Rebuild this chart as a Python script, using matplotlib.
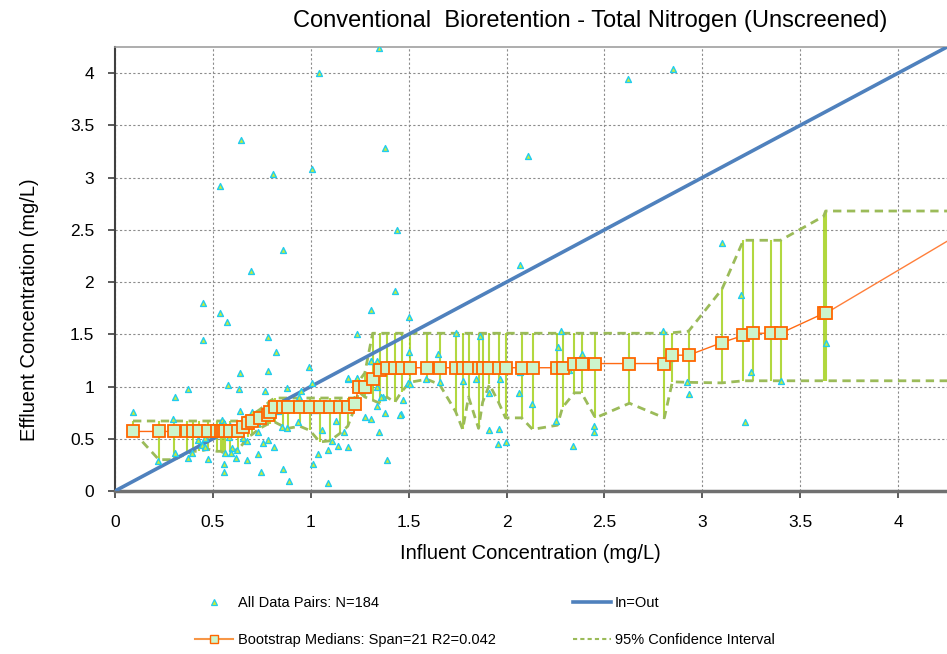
import matplotlib
matplotlib.use('Agg')
import matplotlib.pyplot as plt
from matplotlib.lines import Line2D
from matplotlib.ticker import FuncFormatter

plt.rcParams['font.family'] = ['Liberation Sans', 'DejaVu Sans']

# All data pairs (influent, effluent), mg/L
inf_x = [1.347, 1.04, 2.62, 2.85, 0.643, 1.378, 2.11, 0.536, 0.806, 1.005,
         0.857, 1.44, 2.07, 3.10, 3.20, 0.694, 0.448, 0.536, 0.571, 0.449,
         0.78, 0.82, 0.638, 0.78, 0.99, 1.236, 1.31, 1.43, 1.50, 1.50,
         1.31, 1.347, 0.577, 0.633, 0.372, 0.306, 0.092, 0.638, 0.70, 0.294,
         0.546, 0.555, 0.684, 0.629, 0.294, 0.571, 0.597, 0.425, 0.46, 0.442,
         0.46, 0.654, 0.673, 0.597, 0.622, 0.561, 0.592, 0.393, 0.306, 0.372,
         0.219, 0.475, 0.617, 0.673, 0.555, 0.555, 1.005, 1.19, 1.235, 0.765,
         0.877, 0.95, 1.337, 1.495, 1.245, 1.47, 0.826, 0.755, 0.80, 0.857,
         0.888, 0.94, 1.08, 1.13, 1.19, 1.337, 1.378, 1.46, 1.276, 1.31,
         0.745, 0.725, 0.934, 1.13, 0.852, 0.877, 1.056, 1.17, 1.347, 0.73,
         0.78, 0.755, 1.11, 1.14, 1.19, 0.81, 1.09, 0.73, 1.036, 1.388,
         1.01, 0.857, 0.745, 0.888, 1.087, 1.587, 1.658, 1.776, 1.842, 1.908,
         1.969, 2.07, 2.066, 2.128, 1.908, 1.959, 1.954, 1.995, 2.255, 2.32,
         2.34, 2.449, 2.449, 2.92, 2.93, 1.505, 1.74, 1.867, 1.648, 2.28,
         2.265, 2.383, 2.80, 2.84, 1.367, 3.22, 3.25, 3.35, 3.40, 3.63,
         1.337, 1.36, 1.455, 1.19, 1.235, 1.306, 0.546, 0.565, 0.585, 0.61,
         0.52, 0.50, 0.66, 0.69, 0.72, 0.76, 0.79, 0.835, 0.87, 0.91,
         0.97, 1.02, 1.06, 1.10, 1.16, 1.21, 1.28, 1.40, 1.42, 1.48,
         0.40, 0.48, 0.58, 0.62]
eff_y = [4.24, 4.00, 3.94, 4.04, 3.36, 3.28, 3.21, 2.92, 3.03, 3.08,
         2.31, 2.50, 2.16, 2.37, 1.88, 2.11, 1.80, 1.70, 1.62, 1.45,
         1.47, 1.33, 1.13, 1.15, 1.19, 1.50, 1.73, 1.91, 1.67, 1.33,
         1.24, 1.15, 1.01, 0.98, 0.98, 0.90, 0.76, 0.77, 0.76, 0.69,
         0.68, 0.65, 0.68, 0.63, 0.58, 0.57, 0.58, 0.49, 0.51, 0.44,
         0.42, 0.51, 0.48, 0.41, 0.39, 0.36, 0.36, 0.36, 0.36, 0.32,
         0.29, 0.31, 0.32, 0.30, 0.26, 0.18, 1.035, 1.07, 1.07, 0.96,
         0.99, 0.96, 1.00, 1.03, 1.00, 0.87, 0.84, 0.75, 0.81, 0.81,
         0.80, 0.90, 0.82, 0.82, 0.81, 0.81, 0.75, 0.74, 0.71, 0.69,
         0.71, 0.65, 0.66, 0.67, 0.61, 0.60, 0.58, 0.56, 0.56, 0.56,
         0.49, 0.46, 0.48, 0.43, 0.42, 0.42, 0.39, 0.35, 0.35, 0.30,
         0.26, 0.21, 0.18, 0.10, 0.08, 1.07, 1.04, 1.05, 1.07, 0.94,
         1.07, 1.14, 0.94, 0.83, 0.58, 0.59, 0.45, 0.47, 0.67, 1.16,
         0.43, 0.62, 0.56, 1.04, 0.93, 1.02, 1.51, 1.48, 1.31, 1.53,
         1.38, 1.31, 1.53, 1.27, 0.90, 0.66, 1.14, 1.49, 1.05, 1.42,
         1.24, 0.90, 0.73, 1.08, 1.08, 1.24, 0.60, 0.55, 0.62, 0.57,
         0.55, 0.60, 0.62, 0.66, 0.70, 0.78, 0.79, 0.77, 0.79, 0.83,
         0.80, 0.78, 0.79, 0.80, 0.79, 0.85, 0.97, 1.16, 1.18, 1.17,
         0.58, 0.55, 0.52, 0.56]

# Bootstrap medians and 95% confidence interval at each influent value
med_x = [0.092, 0.224, 0.30, 0.37, 0.40, 0.43, 0.475, 0.52, 0.54, 0.55,
         0.56, 0.587, 0.63, 0.653, 0.68, 0.70, 0.74, 0.78, 0.79, 0.816,
         0.857, 0.883, 0.944, 0.995, 1.046, 1.097, 1.148, 1.189, 1.225, 1.245,
         1.276, 1.316, 1.352, 1.388, 1.429, 1.464, 1.505, 1.592, 1.658, 1.740,
         1.776, 1.806, 1.857, 1.878, 1.913, 1.959, 1.995, 2.077, 2.133, 2.260,
         2.286, 2.347, 2.383, 2.454, 2.628, 2.806, 2.847, 2.93, 3.10, 3.21,
         3.26, 3.35, 3.40, 3.62, 3.63]
med_y = [0.57, 0.57, 0.57, 0.57, 0.57, 0.57, 0.57, 0.57, 0.57, 0.57,
         0.57, 0.57, 0.57, 0.61, 0.65, 0.67, 0.70, 0.73, 0.76, 0.80,
         0.80, 0.80, 0.80, 0.80, 0.80, 0.80, 0.80, 0.80, 0.83, 1.00,
         1.00, 1.07, 1.16, 1.18, 1.18, 1.18, 1.18, 1.18, 1.18, 1.18,
         1.18, 1.18, 1.18, 1.18, 1.18, 1.18, 1.18, 1.18, 1.18, 1.18,
         1.18, 1.22, 1.22, 1.22, 1.22, 1.22, 1.30, 1.30, 1.42, 1.49,
         1.51, 1.51, 1.51, 1.70, 1.70]
ci_lo = [0.57, 0.30, 0.30, 0.36, 0.38, 0.38, 0.40, 0.38, 0.38, 0.37,
         0.37, 0.38, 0.40, 0.45, 0.52, 0.54, 0.60, 0.64, 0.64, 0.66,
         0.62, 0.60, 0.62, 0.58, 0.47, 0.48, 0.55, 0.62, 0.80, 0.95,
         0.90, 0.87, 0.84, 0.90, 0.85, 0.95, 1.04, 1.07, 1.02, 0.76,
         0.59, 0.90, 0.60, 0.85, 1.02, 0.85, 0.70, 0.70, 0.59, 0.63,
         0.80, 0.94, 0.94, 0.70, 0.84, 0.70, 1.045, 1.04, 1.035, 1.055,
         1.055, 1.055, 1.055, 1.055, 1.055]
ci_hi = [0.67, 0.67, 0.67, 0.67, 0.67, 0.67, 0.67, 0.67, 0.67, 0.67,
         0.67, 0.67, 0.67, 0.70, 0.72, 0.73, 0.78, 0.84, 0.86, 0.89,
         0.89, 0.89, 0.89, 0.89, 0.89, 0.89, 0.89, 0.89, 0.89, 1.05,
         1.13, 1.51, 1.51, 1.51, 1.51, 1.51, 1.51, 1.51, 1.51, 1.51,
         1.51, 1.51, 1.51, 1.51, 1.51, 1.51, 1.51, 1.51, 1.51, 1.51,
         1.51, 1.51, 1.51, 1.51, 1.51, 1.51, 1.515, 1.53, 1.93, 2.40,
         2.40, 2.40, 2.40, 2.63, 2.68]

# values carried on to the right edge of the chart
edge_x = 4.25
med_edge = 2.39
ci_lo_edge = 1.055
ci_hi_edge = 2.68

ticks = [0, 0.5, 1, 1.5, 2, 2.5, 3, 3.5, 4]

fig = plt.figure(figsize=(9.47, 6.54), dpi=100)
ax = fig.add_axes([115/947, 163/654, 832/947, 444/654])

# vertical lines between the confidence limits
ax.vlines(med_x, ci_lo, ci_hi, colors='#99cc00', linewidth=1.5, alpha=0.75, zorder=2)

ax.plot(med_x + [edge_x], ci_lo + [ci_lo_edge], color='#9bbb59', lw=2, dashes=(3, 2), zorder=3)
ax.plot(med_x + [edge_x], ci_hi + [ci_hi_edge], color='#9bbb59', lw=2, dashes=(3, 2), zorder=3)

ax.plot([0, edge_x], [0, edge_x], color='#4f81bd', lw=2.6, zorder=4)

ax.scatter(inf_x, eff_y, marker='^', s=18, facecolor='#ccee33', edgecolor='#22ccee',
           linewidths=1.0, zorder=5)

ax.plot([med_x[-1], edge_x], [med_y[-1], med_edge], color='#ff7f3a', lw=1, zorder=6)
ax.plot(med_x, med_y, color='#ff6a13', lw=1, marker='s', markersize=8,
        mfc='#ccf5cc', mec='#ff6600', mew=1.3, zorder=6)

ax.set_xlim(0, edge_x)
ax.set_ylim(0, edge_x)
ax.set_xticks(ticks)
ax.set_yticks(ticks)
fmt = FuncFormatter(lambda v, p: '%g' % v)
ax.xaxis.set_major_formatter(fmt)
ax.yaxis.set_major_formatter(fmt)
ax.tick_params(labelsize=12.5, direction='out', length=5, width=1.2, color='#404040')
ax.tick_params(axis='x', pad=12)
ax.tick_params(axis='y', pad=10)
ax.grid(True, color='#8c8c8c', linestyle=(0, (2, 2)), linewidth=0.8)
ax.set_axisbelow(True)

ax.spines['right'].set_visible(False)
ax.spines['top'].set_color('#a0a0a0')
ax.spines['top'].set_linewidth(1.2)
ax.spines['left'].set_color('#404040')
ax.spines['left'].set_linewidth(1.5)
ax.spines['bottom'].set_color('#707070')
ax.spines['bottom'].set_linewidth(2.5)

ax.set_xlabel('Influent Concentration (mg/L)', fontsize=14.5)
ax.xaxis.set_label_coords((530 - 115) / 832, -(544 - 491) / 444)
ax.set_ylabel('Effluent Concentration (mg/L)', fontsize=14.5)
ax.yaxis.set_label_coords(-(115 - 39) / 832, (491 - 310) / 444)
fig.text(0.623, 0.968, 'Conventional  Bioretention - Total Nitrogen (Unscreened)',
         fontsize=17, ha='center', va='center')

# legend below the chart
h_pairs = Line2D([], [], ls='none', marker='^', markersize=4, mfc='#ccee33', mec='#22ccee', mew=0.9)
h_med = Line2D([], [], color='#f79646', lw=1.5, marker='s', markersize=6, mfc='#ccf5cc', mec='#ff6600')
h_line = Line2D([], [], color='#4f81bd', lw=2.6)
h_ci = Line2D([], [], color='#9bbb59', lw=1.5, dashes=(2, 1.5))
fig.legend([h_pairs, h_med, h_line, h_ci],
           ['All Data Pairs: N=184', 'Bootstrap Medians: Span=21 R2=0.042',
            'In=Out', '95% Confidence Interval'],
           ncol=2, loc='upper left', bbox_to_anchor=(0.2, 0.098), frameon=False,
           fontsize=10.5, handlelength=2.6, handletextpad=0.3, labelspacing=1.6,
           columnspacing=5.3, borderaxespad=0)

fig.savefig('out.png', dpi=100)
